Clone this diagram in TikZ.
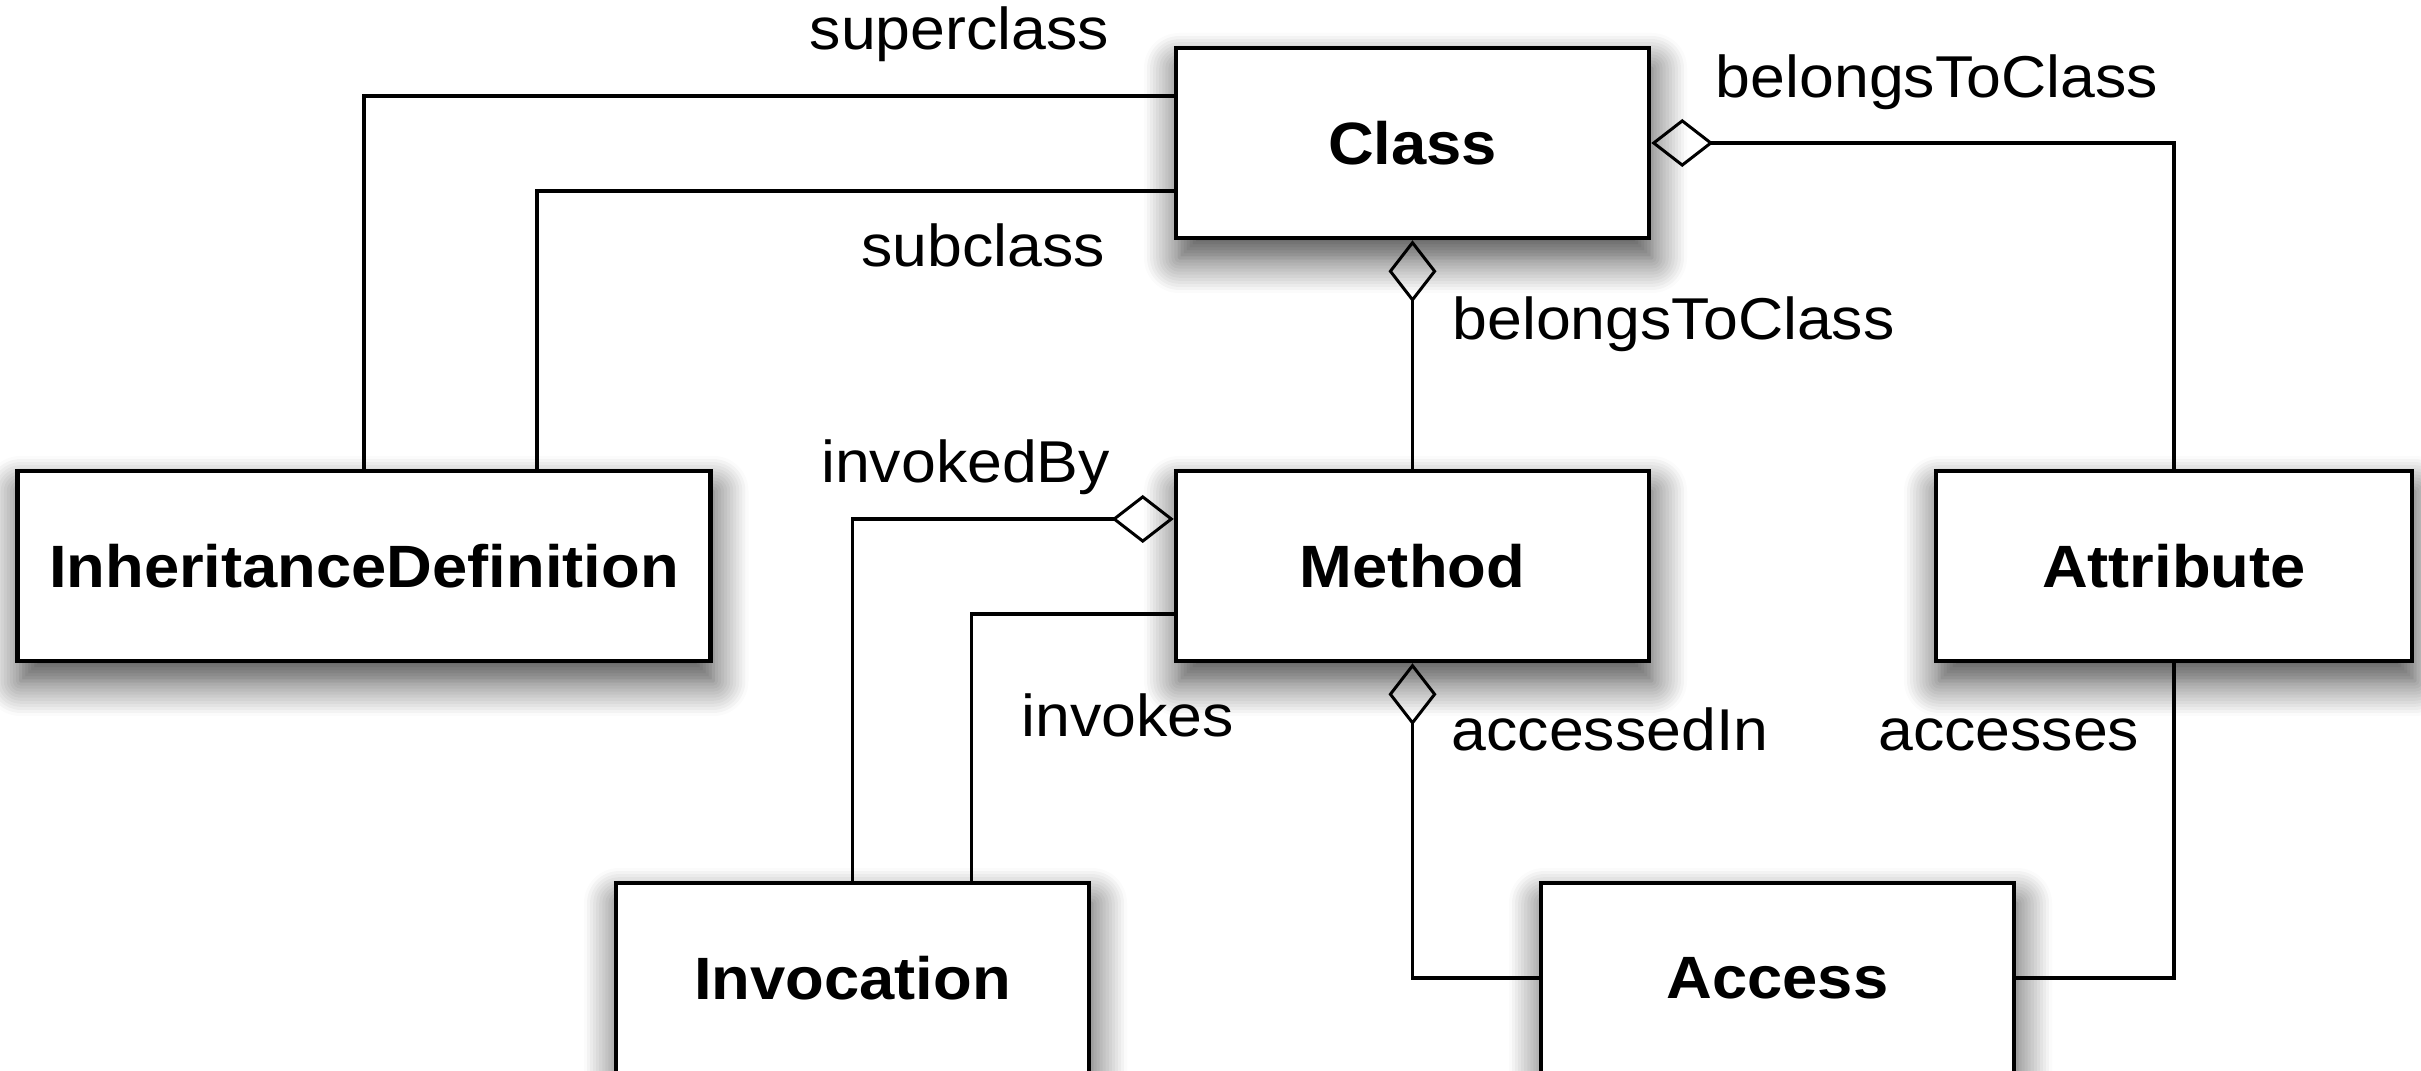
\documentclass[tikz,border=0pt]{standalone}
\usepackage{fontspec}
\setmainfont[FakeStretch=1.06]{Liberation Sans}
\usetikzlibrary{arrows.meta,shadows.blur}
\tikzset{
  entity/.style={draw, line width=0.45mm, fill=white,
    font=\fontsize{17}{20}\selectfont\bfseries,
    minimum width=47.3mm, minimum height=19mm, inner sep=0pt,
    blur shadow={shadow xshift=0.3mm, shadow yshift=-2mm,
      shadow blur radius=3.5mm, shadow blur steps=12, shadow opacity=75}},
  link/.style={line width=0.33mm},
  agg/.style={link, -{Diamond[open, length=6.2mm, width=4.8mm, line width=0.3mm]}},
  role/.style={font=\fontsize{16.8}{20}\selectfont, inner sep=0pt}
}
\begin{document}
\begin{tikzpicture}[x=0.1mm, y=-0.1mm]
  \useasboundingbox (0,0) rectangle (2421,1071);
  \clip (0,0) rectangle (2421,1071);
  \node[entity] (cls) at (1412.5,143) {Class};
  \node[entity] (meth) at (1412.5,566) {Method};
  \node[entity, minimum width=69.3mm] (inh) at (364,566) {InheritanceDefinition};
  \node[entity, minimum width=47.6mm] (attr) at (2174,566) {Attribute};
  \node[entity] (inv) at (852.5,978) {Invocation};
  \node[entity] (acc) at (1777.5,978) {Access};
  \draw[link] ([yshift=4.7mm]cls.west) -| (inh.north);
  \draw[link] ([yshift=-4.8mm]cls.west) -| ([xshift=17.3mm]inh.north);
  \draw[agg] (attr.north) |- (cls.east);
  \draw[agg] (meth.north) -- (cls.south);
  \draw[agg] (inv.north) |- ([yshift=4.7mm]meth.west);
  \draw[link] ([yshift=-4.8mm]meth.west) -| ([xshift=11.9mm]inv.north);
  \draw[agg] (acc.west) -| (meth.south);
  \draw[link] (acc.east) -| (attr.south);
  \node[role, anchor=base east] (sup) at ([xshift=-6.4mm, yshift=9.3mm]cls.west) {superclass};
  \node[role, anchor=base east] (sub) at ([xshift=-6.8mm, yshift=-12.4mm]cls.west) {subclass};
  \node[role, anchor=base west] (btc1) at ([xshift=6.4mm, yshift=4.5mm]cls.east) {belongsToClass};
  \node[role, anchor=base west] (btc2) at ([xshift=3.95mm, yshift=-9.9mm]cls.south) {belongsToClass};
  \node[role, anchor=base east] (ivb) at ([xshift=-6.3mm, yshift=8.3mm]meth.west) {invokedBy};
  \node[role, anchor=base west] (ivk) at ([xshift=-15.3mm, yshift=-17.1mm]meth.west) {invokes};
  \node[role, anchor=base west] (acin) at ([xshift=3.85mm, yshift=-8.7mm]meth.south) {accessedIn};
  \node[role, anchor=base east] (acs) at ([xshift=-3.4mm, yshift=-8.7mm]attr.south) {accesses};
\end{tikzpicture}
\end{document}
